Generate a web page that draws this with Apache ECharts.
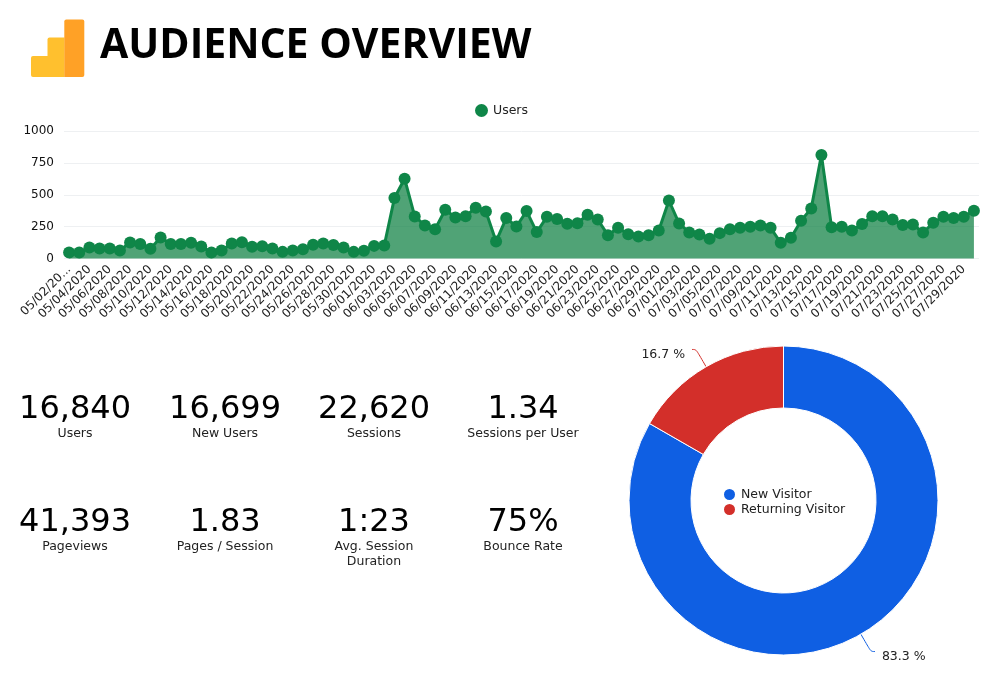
<!DOCTYPE html>
<html><head><meta charset="utf-8">
<style>html,body{margin:0;padding:0;background:#fff}#c{width:1000px;height:673px}</style>
<script src="https://cdn.jsdelivr.net/npm/echarts@6/dist/echarts.min.js"></script>
</head><body><div id="c"></div>
<script>
const titleText = 'AUDIENCE OVERVIEW';
const seriesName = 'Users';
const startDate = [5, 2];
const monthLengths = {5: 31, 6: 30, 7: 31};
const users = [47,47,86,79,79,63,126,113,76,165,113,113,123,94,47,63,118,128,92,97,79,52,63,73,107,118,105,
  86,52,60,99,102,474,626,330,259,230,382,322,332,398,369,134,317,251,372,207,327,309,272,277,343,306,183,241,191,173,183,220,455,
  275,204,188,154,199,230,241,249,259,241,123,162,296,393,812,246,249,220,270,332,332,306,262,267,204,280,327,317,327,374];
const visitorNames = ['New Visitor', 'Returning Visitor'];
const visitorShares = [83.3, 16.7];
const visitorColors = ['#0f5fe3', '#d32f2a'];
const kpiValues = ['16,840', '16,699', '22,620', '1.34', '41,393', '1.83', '1:23', '75%'];
const kpiLabels = ['Users', 'New Users', 'Sessions', 'Sessions per User', 'Pageviews', 'Pages / Session', 'Avg. Session\nDuration', 'Bounce Rate'];

const pad = n => String(n).padStart(2, '0');
const dates = [];
{
  let m = startDate[0], d = startDate[1];
  users.forEach(() => {
    dates.push(pad(m) + '/' + pad(d) + '/2020');
    d++;
    if (d > monthLengths[m]) { d = 1; m++; }
  });
}

const font = '"DejaVu Sans", sans-serif';
const kpiX = [75, 225, 374, 523];
const kpiY = [408, 521];
const graphic = [
  {type: 'rect', shape: {x: 31, y: 56, width: 17, height: 21, r: [2, 0, 0, 2]}, style: {fill: '#ffc02e'}},
  {type: 'rect', shape: {x: 47.5, y: 37.5, width: 17, height: 39.5, r: [2, 0, 0, 0]}, style: {fill: '#ffc02e'}},
  {type: 'rect', shape: {x: 64.3, y: 19.5, width: 20, height: 57.5, r: [2, 2, 2, 0]}, style: {fill: '#ffa126'}},
  {type: 'text', x: 100, y: 46, style: {text: titleText, font: 'bold 41px "Open Sans", sans-serif', fill: '#000', textAlign: 'left', textVerticalAlign: 'middle'}}
];
kpiValues.forEach((v, i) => {
  const x = kpiX[i % 4], y = kpiY[Math.floor(i / 4)];
  graphic.push({type: 'text', x, y: y + 2, style: {text: v, font: '32px ' + font, fill: '#000', textAlign: 'center', textVerticalAlign: 'middle'}});
  graphic.push({type: 'text', x, y: y + 18, style: {text: kpiLabels[i], font: '12.5px ' + font, lineHeight: 15, fill: '#222', textAlign: 'center', textVerticalAlign: 'top'}});
});

const chart = echarts.init(document.getElementById('c'), null, {renderer: 'canvas'});
chart.setOption({
  animation: false,
  backgroundColor: '#fff',
  textStyle: {fontFamily: font},
  graphic,
  legend: [
    {data: [seriesName], left: 470, top: 99, icon: 'circle', itemWidth: 13, itemHeight: 13, itemGap: 4, selectedMode: false,
      textStyle: {fontSize: 12.5, color: '#222', fontFamily: font}},
    {data: visitorNames, orient: 'vertical', left: 717, top: 482, icon: 'circle', itemWidth: 13, itemHeight: 13, itemGap: 0, selectedMode: false,
      textStyle: {fontSize: 12.5, color: '#222', fontFamily: font}}
  ],
  grid: {left: 64, right: 21, top: 131, height: 127.5, containLabel: false},
  xAxis: {
    type: 'category', data: dates, boundaryGap: true,
    axisLine: {show: false},
    axisTick: {alignWithLabel: true, interval: 1, length: 5, lineStyle: {color: '#dde3ea'}},
    axisLabel: {
      interval: 1, rotate: 45, fontSize: 12, color: '#222', margin: 9, fontFamily: font,
      formatter: (v, i) => i === 0 ? v.slice(0, 8) + '...' : v
    },
    splitLine: {show: false}
  },
  yAxis: {
    type: 'value', min: 0, max: 1000, interval: 250,
    axisLine: {show: false}, axisTick: {show: false},
    axisLabel: {fontSize: 12, color: '#111', margin: 10, fontFamily: font, padding: [2, 0, 0, 0], formatter: v => String(v)},
    splitLine: {lineStyle: {color: '#eef0f2', width: 1}}
  },
  series: [
    {
      name: seriesName, type: 'line', data: users, symbol: 'circle', symbolSize: 12, showSymbol: true, showAllSymbol: true,
      itemStyle: {color: '#0f8648'}, lineStyle: {color: '#0f8648', width: 3},
      areaStyle: {color: '#0c7f41', opacity: 0.72}, z: 3
    },
    {
      name: 'Visitors', type: 'pie', center: [783.5, 500.5], radius: [92.5, 154.5], startAngle: 90, clockwise: true,
      data: visitorNames.map((n, i) => ({name: n, value: visitorShares[i], itemStyle: {color: visitorColors[i]}})),
      itemStyle: {borderColor: '#fff', borderWidth: 1},
      label: {formatter: '{c} %', fontSize: 12.5, color: '#222', fontFamily: font},
      labelLine: {length: 20, length2: 4, smooth: 0.4, lineStyle: {width: 1}},
      labelLayout: p => ({dy: 5, dx: p.dataIndex === 0 ? 2 : -2}),
      emphasis: {disabled: true}
    }
  ]
});
</script></body></html>
